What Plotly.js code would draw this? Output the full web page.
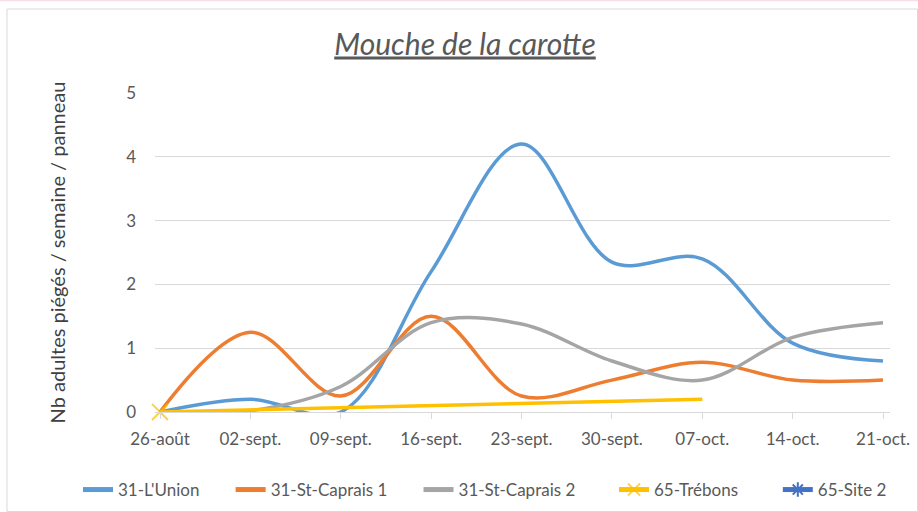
<!DOCTYPE html>
<html>
<head>
<meta charset="utf-8">
<script src="https://cdn.plot.ly/plotly-3.0.1.min.js"></script>
<style>html,body{margin:0;padding:0;background:#fff;}#chart{width:918px;height:512px;}</style>
</head>
<body>
<div id="chart"></div>
<script>
const dates = ["26-août","02-sept.","09-sept.","16-sept.","23-sept.","30-sept.","07-oct.","14-oct.","21-oct."];
const lunion = [0, 0.2, 0, 2.2, 4.2, 2.35, 2.4, 1.08, 0.8];
const caprais1 = [0, 1.25, 0.25, 1.5, 0.25, 0.5, 0.78, 0.5, 0.5];
const caprais2 = [0, 0.02, 0.4, 1.4, 1.38, 0.8, 0.5, 1.17, 1.4];
const trebons = [0, null, null, null, null, null, 0.2, null, null];
const site2 = [null, null, null, null, null, null, null, null, null];
const yTicks = [0, 1, 2, 3, 4, 5];

const FONT = "Lato, Open Sans, sans-serif";
const GREY = "#595959";
const idx = dates.map((d, i) => i);
const pad = n => "\u00a0".repeat(n);

function line(name, y, color, extra) {
  return Object.assign({
    type: "scatter", mode: "lines", name: name, x: idx, y: y,
    line: {color: color, width: 3.5, shape: "spline", smoothing: 1},
    hoverinfo: "skip"
  }, extra || {});
}

const traces = [
  line("31-L'Union" + pad(6), lunion, "#5B9BD5"),
  line("31-St-Caprais 1" + pad(6), caprais1, "#ED7D31"),
  line("31-St-Caprais 2", caprais2, "#A5A5A5"),
  line("65-Trébons" + pad(8), trebons, "#FFC000", {
    legend: "legend2",
    mode: "lines+markers", connectgaps: true, cliponaxis: false,
    marker: {symbol: "x-thin", size: trebons.map((v, i) => i === 0 ? 16 : 0), line: {color: "#FFC000", width: 2}, color: "#FFC000"}
  }),
  line("65-Site 2", site2, "#4472C4", {
    legend: "legend2",
    mode: "lines+markers",
    marker: {symbol: "asterisk", size: 10, line: {color: "#4472C4", width: 1.5}, color: "#4472C4"}
  })
];

const L = 155, R = 890, T = 93, B = 412, W = 918, H = 512;
const px = p => (p - L) / (R - L);
const py = p => (B - p) / (B - T);

const legendBase = {
  orientation: "h", xref: "container", xanchor: "left",
  y: 1 - 490 / H, yref: "container", yanchor: "middle",
  font: {size: 17, color: GREY, family: FONT},
  itemwidth: 30, itemsizing: "constant", tracegroupgap: 0
};

const layout = {
  width: W, height: H,
  margin: {l: L, r: W - R, t: T, b: H - B},
  paper_bgcolor: "#fff", plot_bgcolor: "#fff",
  font: {family: FONT, color: GREY, size: 17},
  title: {
    text: "<i><u>Mouche de la carotte</u></i>",
    font: {family: FONT, size: 30, color: GREY},
    xref: "container", yref: "container",
    x: 465 / W, y: 1 - 44 / H, xanchor: "center", yanchor: "middle"
  },
  xaxis: {
    type: "linear",
    range: [-5 / 90.375, 8 + 7 / 90.375],
    tickvals: idx, ticktext: dates,
    showgrid: false, zeroline: false,
    showline: true, linecolor: "#d9d9d9", linewidth: 1,
    ticks: "outside", ticklen: 6, tickcolor: "#d9d9d9",
    ticklabelstandoff: 6,
    tickfont: {size: 17, color: GREY, family: FONT},
    fixedrange: true
  },
  yaxis: {
    range: [0, 5],
    tickvals: yTicks,
    showgrid: true, gridcolor: "#d9d9d9", gridwidth: 1,
    zeroline: false, showline: false,
    ticks: "", ticklabelstandoff: 18,
    tickfont: {size: 17, color: GREY, family: FONT},
    title: {text: "Nb adultes piégés / semaine / panneau", font: {size: 20, color: "#404040", family: FONT}, standoff: 55},
    fixedrange: true
  },
  showlegend: true,
  legend: Object.assign({}, legendBase, {x: 78 / W}),
  legend2: Object.assign({}, legendBase, {x: 614 / W}),
  shapes: [
    {type: "rect", xref: "paper", yref: "paper", x0: px(7), x1: px(917.5), y0: py(511.5), y1: py(9),
     line: {color: "#d9d9d9", width: 1}, fillcolor: "rgba(0,0,0,0)", layer: "below"},
    {type: "line", xref: "paper", yref: "paper", x0: px(0), x1: px(918), y0: py(0.5), y1: py(0.5),
     line: {color: "#f6dde6", width: 1.5}}
  ]
};

Plotly.newPlot("chart", traces, layout, {displayModeBar: false, staticPlot: true});
</script>
</body>
</html>
